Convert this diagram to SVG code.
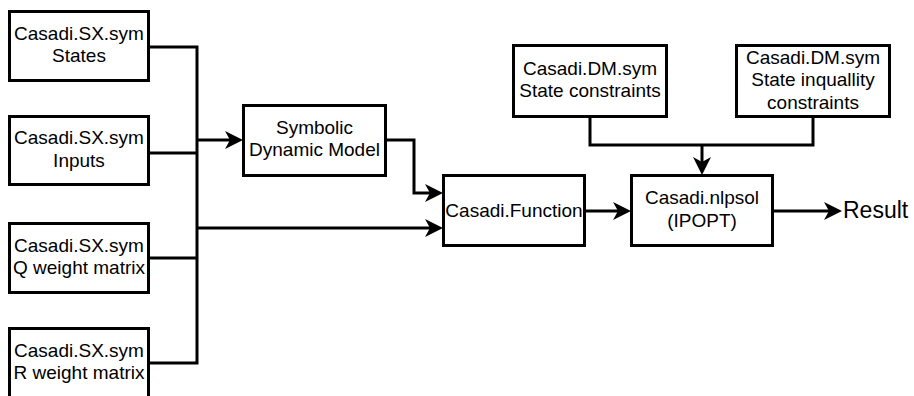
<svg xmlns="http://www.w3.org/2000/svg" width="914" height="396" viewBox="0 0 914 396">
<style>
.box{fill:#fff;stroke:#000;stroke-width:3}
.t{font-family:"Liberation Sans",Arial,sans-serif;font-size:19px;fill:#000;text-anchor:middle}
.c{fill:none;stroke:#000;stroke-width:3}
</style>
<defs>
<marker id="ah" markerUnits="userSpaceOnUse" viewBox="0 0 18 18" markerWidth="18" markerHeight="18" refX="13" refY="9" orient="auto">
<path d="M0,0 L18,9 L0,18 L5,9 Z" fill="#000"/>
</marker>
</defs>
<g id="states"><rect class="box" x="9.5" y="11.5" width="139" height="69"/><text class="t" x="79" y="39.5">Casadi.SX.sym</text><text class="t" x="79" y="62">States</text></g>
<g id="inputs"><rect class="box" x="9.5" y="116.5" width="139" height="68"/><text class="t" x="79" y="144">Casadi.SX.sym</text><text class="t" x="79" y="166.5">Inputs</text></g>
<g id="q"><rect class="box" x="9.5" y="223.5" width="139" height="69"/><text class="t" x="79" y="251.5">Casadi.SX.sym</text><text class="t" x="79" y="274">Q weight matrix</text></g>
<g id="r"><rect class="box" x="9.5" y="328.5" width="139" height="70"/><text class="t" x="79" y="356.5">Casadi.SX.sym</text><text class="t" x="79" y="379">R weight matrix</text></g>
<g id="symbolic"><rect class="box" x="243.5" y="105.5" width="142" height="70"/><text class="t" x="314.5" y="133.5">Symbolic</text><text class="t" x="314.5" y="156">Dynamic Model</text></g>
<g id="function"><rect class="box" x="443.5" y="175.5" width="141" height="70"/><text class="t" x="514" y="216.5">Casadi.Function</text></g>
<g id="nlpsol"><rect class="box" x="631.5" y="175.5" width="141" height="70"/><text class="t" x="702" y="203.5">Casadi.nlpsol</text><text class="t" x="702" y="226.5">(IPOPT)</text></g>
<g id="dm1"><rect class="box" x="513.5" y="45.5" width="153" height="71"/><text class="t" x="590" y="74.5">Casadi.DM.sym</text><text class="t" x="590" y="97">State constraints</text></g>
<g id="dm2"><rect class="box" x="736.5" y="45.5" width="153" height="71"/><text class="t" x="813" y="63.5">Casadi.DM.sym</text><text class="t" x="813" y="86">State inquallity</text><text class="t" x="813" y="108.5">constraints</text></g>
<g id="result"><text x="843" y="218" style="font-family:'Liberation Sans',Arial,sans-serif;font-size:23px;fill:#000">Result</text></g>
<g id="connectors">
<path class="c" d="M149,47 H197 V363 H149"/>
<path class="c" d="M149,153 H197"/>
<path class="c" d="M149,258 H197"/>
<path class="c" d="M197,140 H238" marker-end="url(#ah)"/>
<path class="c" d="M197,228 H438" marker-end="url(#ah)"/>
<path class="c" d="M386,140 H414 V193 H438" marker-end="url(#ah)"/>
<path class="c" d="M585,211 H626" marker-end="url(#ah)"/>
<path class="c" d="M773,211 H837" marker-end="url(#ah)"/>
<path class="c" d="M590,117 V145 H813 V117"/>
<path class="c" d="M702,145 V170" marker-end="url(#ah)"/>
</g>
</svg>
